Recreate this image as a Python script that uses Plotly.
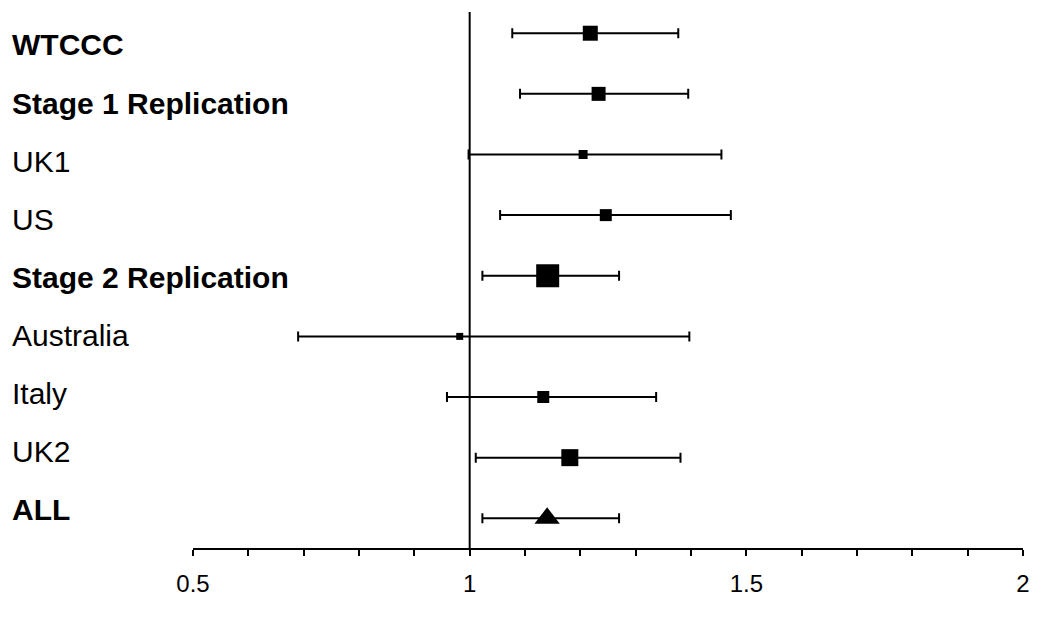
import plotly.graph_objects as go

studies = ["WTCCC", "Stage 1 Replication", "UK1", "US", "Stage 2 Replication",
           "Australia", "Italy", "UK2", "ALL"]
bold = [True, True, False, False, True, False, False, False, True]
odds = [1.218, 1.233, 1.205, 1.246, 1.141, 0.982, 1.133, 1.181, 1.140]
ci_low = [1.077, 1.091, 0.998, 1.055, 1.023, 0.690, 0.959, 1.011, 1.023]
ci_high = [1.377, 1.395, 1.455, 1.472, 1.270, 1.397, 1.337, 1.381, 1.270]
weights = [15, 14, 9, 12, 23, 7, 12, 17, 22]  # marker sizes (relative weight)

xticks = [0.5, 1, 1.5, 2]
xtick_labels = ["0.5", "1", "1.5", "2"]

rows = list(range(len(studies)))
n_sq = len(studies) - 1

fig = go.Figure()

# squares for individual / stage results
fig.add_trace(go.Scatter(
    x=odds[:n_sq], y=rows[:n_sq], mode="markers",
    marker=dict(symbol="square", size=weights[:n_sq], color="black",
                opacity=1, line=dict(width=0)),
    error_x=dict(type="data", symmetric=False,
                 array=[h - o for h, o in zip(ci_high[:n_sq], odds[:n_sq])],
                 arrayminus=[o - l for o, l in zip(odds[:n_sq], ci_low[:n_sq])],
                 color="black", thickness=2, width=5),
    showlegend=False, hoverinfo="skip"))

# triangle for combined
fig.add_trace(go.Scatter(
    x=odds[n_sq:], y=rows[n_sq:], mode="markers",
    marker=dict(symbol="triangle-up", size=weights[n_sq:], color="black",
                opacity=1, line=dict(width=0)),
    error_x=dict(type="data", symmetric=False,
                 array=[h - o for h, o in zip(ci_high[n_sq:], odds[n_sq:])],
                 arrayminus=[o - l for o, l in zip(odds[n_sq:], ci_low[n_sq:])],
                 color="black", thickness=2, width=5),
    showlegend=False, hoverinfo="skip"))

# reference line at OR = 1
fig.add_shape(type="line", xref="x", yref="paper", x0=1, x1=1, y0=0, y1=1,
              line=dict(color="black", width=2), layer="below")

# the page body adds an 8px offset, so the figure is drawn 8px smaller
W, H = 1042, 614
ML, MT, PW, PH = 185, 4, 830, 536

# left-hand labels
for i, (name, b) in enumerate(zip(studies, bold)):
    ypx = 37 + i * 58
    fig.add_annotation(
        x=-(ML - 2) / PW, xref="paper", xanchor="left",
        y=1 - (ypx - MT) / PH, yref="paper", yanchor="middle",
        text=f"<b>{name}</b>" if b else name, showarrow=False,
        font=dict(family="Liberation Sans, Arial", size=30, color="black"))

fig.update_layout(
    width=W, height=H,
    margin=dict(l=ML, r=W - ML - PW, t=MT, b=H - MT - PH),
    paper_bgcolor="white", plot_bgcolor="white",
    font=dict(family="Liberation Sans, Arial", color="black"),
    xaxis=dict(range=[0.5, 2], tickvals=xticks, ticktext=xtick_labels,
               ticks="outside", ticklen=6, tickwidth=2, tickcolor="black",
               minor=dict(dtick=0.1, ticks="outside", ticklen=6, tickwidth=2, tickcolor="black"),
               showline=True, linecolor="black", linewidth=2,
               showgrid=False, zeroline=False,
               tickfont=dict(size=24, color="black"), ticklabelstandoff=7),
    yaxis=dict(range=[8.49, -0.35], showticklabels=False, showgrid=False,
               zeroline=False, showline=False, ticks=""),
)

fig.write_html("out.html")
